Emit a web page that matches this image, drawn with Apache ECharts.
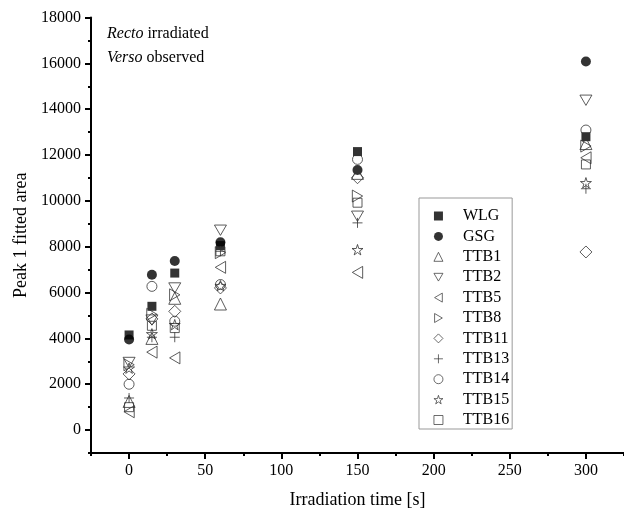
<!DOCTYPE html>
<html>
<head>
<meta charset="utf-8">
<script src="https://cdn.jsdelivr.net/npm/echarts@6/dist/echarts.min.js"></script>
<style>
html,body{margin:0;padding:0;background:#fff}
#chart{width:624px;height:514px}
</style>
</head>
<body>
<div id="chart"></div>
<script>
// irradiation times (s)
var times = [0, 15, 30, 60, 150, 300];
// peak 1 fitted area, one list per sample
var WLG   = [4150, 5400, 6850, 8050, 12150, 12800];
var GSG   = [3950, 6780, 7380, 8190, 11350, 16080];
var TTB1  = [1250, 4000, 5750, 5500, 11200, 12500];
var TTB2  = [2950, 4800, 6200, 8720, 9330, 14390];
var TTB5  = [800, 3400, 3150, 7100, 6880, 11880];
var TTB8  = [2850, 5050, 5900, 7740, 10210, 12390];
var TTB11 = [2450, 4850, 5180, 6200, 11010, 7770];
var TTB13 = [1400, 4050, 4050, 7800, 9040, 10530];
var TTB14 = [2000, 6270, 4750, 6350, 11810, 13090];
var TTB15 = [2700, 4200, 4600, 6300, 7870, 10790];
var TTB16 = [1000, 4550, 4450, 7800, 9920, 11590];

var xTicks = [0, 50, 100, 150, 200, 250, 300];
var yTicks = [0, 2000, 4000, 6000, 8000, 10000, 12000, 14000, 16000, 18000];

var FONT = 'Liberation Serif';
var INK = '#333';
var CLEAR = 'rgba(0,0,0,0)';
// marker shapes
var TRI_DOWN  = 'path://M0,0 L100,0 L50,86 Z';
var TRI_LEFT  = 'path://M86,0 L86,100 L0,50 Z';
var TRI_RIGHT = 'path://M0,0 L0,100 L86,50 Z';
var STAR = 'path://M50,0 L61,35 L98,35 L68,57 L79,91 L50,70 L21,91 L32,57 L2,35 L39,35 Z';
var PLUS = 'path://M0,50 L100,50 M50,0 L50,100';

function pts(vals) {
    return times.map(function (t, i) { return [t, vals[i]]; });
}

function mk(name, vals, symbol, size, filled) {
    return {
        name: name,
        type: 'scatter',
        data: pts(vals),
        symbol: symbol,
        symbolSize: size,
        symbolKeepAspect: true,
        itemStyle: filled
            ? {color: '#000', borderColor: '#000', borderWidth: 0}
            : {color: CLEAR, borderColor: INK, borderWidth: 1},
        emphasis: {disabled: true}
    };
}

var series = [
    mk('WLG', WLG, 'rect', 9, true),
    mk('GSG', GSG, 'circle', 10, true),
    mk('TTB1', TTB1, 'triangle', 12, false),
    mk('TTB2', TTB2, TRI_DOWN, 12, false),
    mk('TTB5', TTB5, TRI_LEFT, 12, false),
    mk('TTB8', TTB8, TRI_RIGHT, 12, false),
    mk('TTB11', TTB11, 'diamond', 12, false),
    mk('TTB13', TTB13, PLUS, 10, false),
    mk('TTB14', TTB14, 'circle', 10, false),
    mk('TTB15', TTB15, STAR, 11, false),
    mk('TTB16', TTB16, 'rect', 9, false)
];

var legendData = series.map(function (s) {
    var filled = s.itemStyle.color !== CLEAR;
    return {
        name: s.name,
        itemStyle: filled
            ? {color: '#000', borderWidth: 0}
            : {color: CLEAR, borderColor: INK, borderWidth: 0.9}
    };
});

function plain(v) { return String(v); }

var myChart = echarts.init(document.getElementById('chart'));
myChart.setOption({
    animation: false,
    backgroundColor: '#fff',
    title: {
        text: '{i|Recto} irradiated\n{i|Verso} observed',
        left: 102,
        top: 17,
        textStyle: {
            fontFamily: FONT, fontSize: 16, fontWeight: 'normal', color: '#000', lineHeight: 24,
            rich: {i: {fontFamily: FONT, fontSize: 16, fontStyle: 'italic', color: '#000', lineHeight: 24}}
        }
    },
    legend: {
        orient: 'vertical',
        left: 419,
        top: 198,
        padding: [10, 3, 1, 14.5],
        itemWidth: 9,
        itemHeight: 9,
        itemGap: 4.4,
        borderColor: '#999',
        borderWidth: 1,
        textStyle: {fontFamily: FONT, fontSize: 16, color: '#000', padding: [0, 0, 0, 15]},
        data: legendData
    },
    grid: {left: 91, right: 0, top: 17.5, bottom: 61},
    xAxis: [{
        type: 'value',
        min: -25,
        max: 325,
        interval: 25,
        name: 'Irradiation time [s]',
        nameLocation: 'middle',
        nameGap: 38,
        nameTextStyle: {fontFamily: FONT, fontSize: 18, color: '#000'},
        axisLine: {show: true, onZero: false, lineStyle: {color: '#000', width: 2}},
        axisTick: {show: true, length: 6, lineStyle: {color: '#000', width: 2}, customValues: xTicks},
        axisLabel: {fontFamily: FONT, fontSize: 16, color: '#000', margin: 10, customValues: xTicks, formatter: plain},
        splitLine: {show: false}
    }, {
        type: 'value',
        min: -25,
        max: 325,
        interval: 25,
        position: 'bottom',
        axisLine: {show: false, onZero: false},
        axisTick: {show: true, length: 3, lineStyle: {color: '#000', width: 2}},
        axisLabel: {show: false},
        splitLine: {show: false}
    }],
    yAxis: [{
        type: 'value',
        min: -1000,
        max: 18000,
        interval: 1000,
        name: 'Peak 1 fitted area',
        nameLocation: 'middle',
        nameGap: 56,
        nameTextStyle: {fontFamily: FONT, fontSize: 18, color: '#000'},
        axisLine: {show: true, onZero: false, lineStyle: {color: '#000', width: 2}},
        axisTick: {show: true, length: 6, lineStyle: {color: '#000', width: 2}, customValues: yTicks},
        axisLabel: {fontFamily: FONT, fontSize: 16, color: '#000', margin: 10, customValues: yTicks, formatter: plain},
        splitLine: {show: false}
    }, {
        type: 'value',
        min: -1000,
        max: 18000,
        interval: 1000,
        position: 'left',
        axisLine: {show: false, onZero: false},
        axisTick: {show: true, length: 3, lineStyle: {color: '#000', width: 2}},
        axisLabel: {show: false},
        splitLine: {show: false}
    }],
    series: series
});
</script>
</body>
</html>
